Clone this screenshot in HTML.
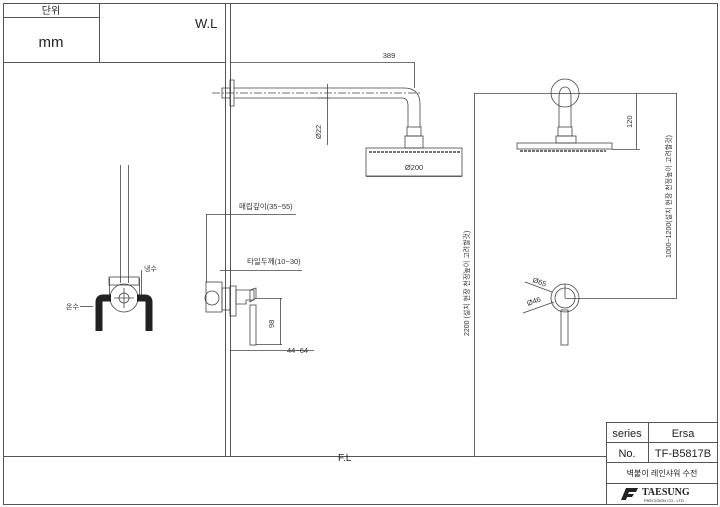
<!DOCTYPE html>
<html><head><meta charset="utf-8"><style>
body{margin:0;background:#fff}
svg{display:block;font-family:"Liberation Sans","Noto Sans CJK KR",sans-serif}
</style></head><body>
<svg width="720" height="507" viewBox="0 0 720 507" xmlns="http://www.w3.org/2000/svg">
<g fill="none" stroke="#555" stroke-width="1">
<rect x="3.5" y="3.5" width="714" height="501"/>
<line x1="3" y1="62.5" x2="226" y2="62.5"/>
<line x1="99.5" y1="3" x2="99.5" y2="62"/>
<line x1="3" y1="17.5" x2="99" y2="17.5"/>
<line x1="225.5" y1="3" x2="225.5" y2="457"/>
<line x1="230.5" y1="3" x2="230.5" y2="457"/>
<line x1="3" y1="456.5" x2="606" y2="456.5"/>
<!-- title block -->
<rect x="606.5" y="422.5" width="111" height="82"/>
<line x1="606" y1="442.5" x2="718" y2="442.5"/>
<line x1="606" y1="462.5" x2="718" y2="462.5"/>
<line x1="606" y1="483.5" x2="718" y2="483.5"/>
<line x1="648.5" y1="422" x2="648.5" y2="462"/>
</g>
<g fill="none" stroke="#444" stroke-width="0.8">
<!-- shower arm side -->
<rect x="230" y="80" width="4" height="26"/>
<rect x="222" y="88" width="8" height="10"/>
<path d="M234 88 H404 Q420 88 420 104 V127 M234 98 H402 Q408 98 408 106 V127"/>
<rect x="407" y="127" width="14" height="9"/>
<rect x="405" y="136" width="18" height="12"/>
<rect x="366" y="148" width="96" height="28"/>
<line x1="369" y1="152" x2="460" y2="152" stroke-dasharray="3 1" stroke-width="1.5"/>
<line x1="212" y1="93" x2="420" y2="93" stroke-dasharray="8 2 2 2"/>
<!-- dims -->
<line x1="230" y1="62.5" x2="414" y2="62.5"/>
<line x1="414.5" y1="62" x2="414.5" y2="88"/>
<line x1="327.5" y1="84" x2="327.5" y2="145"/>
<line x1="318" y1="98" x2="330" y2="98"/>
<line x1="366" y1="176.5" x2="462" y2="176.5"/>
<!-- front top -->
<circle cx="565" cy="93" r="14"/>
<path d="M559 127 V98 Q559 87 565 87 Q571 87 571 98 V127"/>
<rect x="558" y="127" width="14" height="9"/>
<rect x="556" y="136" width="20" height="7"/>
<rect x="517" y="143" width="95" height="6"/>
<line x1="520" y1="151" x2="606" y2="151" stroke-dasharray="3 1" stroke-width="1.5"/>
<line x1="474" y1="93.5" x2="677" y2="93.5"/>
<line x1="474.5" y1="93" x2="474.5" y2="457"/>
<line x1="636.5" y1="93" x2="636.5" y2="149"/>
<line x1="612" y1="149.5" x2="640" y2="149.5"/>
<line x1="676.5" y1="93" x2="676.5" y2="298"/>
<line x1="565" y1="298.5" x2="677" y2="298.5"/>
<circle cx="565" cy="298" r="14"/>
<circle cx="565" cy="298" r="10"/>
<line x1="565" y1="284" x2="565" y2="298"/>
<rect x="561" y="310" width="7" height="35"/>
<line x1="525" y1="282" x2="552" y2="292"/>
<line x1="523" y1="313" x2="554" y2="302"/>
<!-- side valve -->
<line x1="206" y1="214.5" x2="296" y2="214.5"/>
<line x1="206.5" y1="214" x2="206.5" y2="283"/>
<line x1="220" y1="270.5" x2="302" y2="270.5"/>
<rect x="206" y="282" width="16" height="30"/>
<circle cx="212" cy="298" r="7"/>
<rect x="222" y="288" width="8" height="22"/>
<rect x="230" y="286" width="6" height="30"/>
<path d="M236 290 H254 V300 H246 V304 H236 Z"/>
<path d="M250 290 L256 288 L256 298 L250 302 Z"/>
<rect x="250" y="305" width="6" height="40"/>
<line x1="256" y1="298.5" x2="282" y2="298.5"/>
<line x1="256" y1="344.5" x2="282" y2="344.5"/>
<line x1="280.5" y1="298" x2="280.5" y2="345"/>
<line x1="230" y1="350.5" x2="314" y2="350.5"/>
<!-- left view -->
<line x1="120.5" y1="165" x2="120.5" y2="283"/>
<line x1="128.5" y1="165" x2="128.5" y2="283"/>
<rect x="109" y="277" width="30" height="8"/>
<circle cx="124" cy="298" r="14"/>
<circle cx="124" cy="298" r="5"/>
<line x1="114" y1="298" x2="134" y2="298"/><line x1="124" y1="288" x2="124" y2="308"/>
<line x1="109.5" y1="278" x2="109.5" y2="296"/><line x1="139.5" y1="278" x2="139.5" y2="296"/>
<line x1="141.5" y1="270" x2="141.5" y2="297"/>
<line x1="80" y1="306.5" x2="93" y2="306.5"/>
</g>
<g stroke="#222" stroke-width="7" fill="none">
<path d="M99 331 V302 Q99 298 103 298 H111"/>
<path d="M149 331 V302 Q149 298 145 298 H137"/>
</g>
<g fill="#333" font-size="7.5">
<text x="389" y="58" text-anchor="middle">389</text>
<text x="414" y="170" text-anchor="middle">Ø200</text>
<text transform="translate(321,139) rotate(-90)">Ø22</text>
<text transform="translate(632,128) rotate(-90)">120</text>
<text transform="translate(274,328) rotate(-90)">98</text>
<text x="239" y="209">매립깊이(35~55)</text>
<text x="247" y="264">타일두께(10~30)</text>
<text x="287" y="353">44~64</text>
<text transform="translate(532,282) rotate(20)">Ø65</text>
<text transform="translate(528,306) rotate(-20)">Ø46</text>
<text transform="translate(469,336) rotate(-90)" font-size="7">2200 (설치 현장 천정높이 고려할것)</text>
<text transform="translate(671,258) rotate(-90)" font-size="7">1000~1200(설치 현장 천정높이 고려할것)</text>
<text x="144" y="271" font-size="7">냉수</text>
<text x="66" y="309" font-size="7">온수</text>
</g>
<g fill="#222">
<text x="51" y="14" font-size="10" text-anchor="middle">단위</text>
<text x="51" y="47" font-size="15" text-anchor="middle">mm</text>
<text x="195" y="28" font-size="13">W.L</text>
<text x="338" y="461" font-size="10">F.L</text>
<text x="627" y="437" font-size="11" text-anchor="middle">series</text>
<text x="683" y="437" font-size="11" text-anchor="middle">Ersa</text>
<text x="627" y="457" font-size="11" text-anchor="middle">No.</text>
<text x="683" y="457" font-size="11" text-anchor="middle">TF-B5817B</text>
<text x="662" y="476" font-size="8" text-anchor="middle">벽붙이 레인샤워 수전</text>
<path d="M621 500 L626 488 L638 488 L636 492 L629 492 L628 494 L634 494 L632 497 L627 497 L626 500 Z"/>
<text x="642" y="495" font-size="10" font-weight="bold" font-family="Liberation Serif,serif">TAESUNG</text>
<text x="644" y="502" font-size="4">PRECISION CO., LTD</text>
</g>
</svg>
</body></html>
